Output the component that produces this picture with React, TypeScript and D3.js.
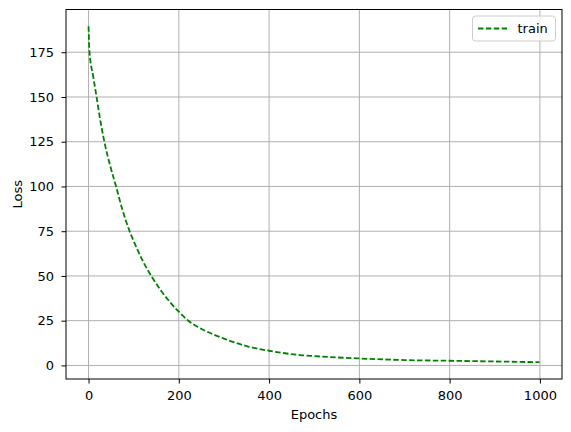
import React, { useEffect, useRef } from "react";
import * as d3 from "d3";

// Values
const epochs = [0, 2, 10, 18, 25, 35, 48, 61, 75, 91, 100, 120, 139, 160, 180, 200, 221, 246, 300, 350, 400, 468, 500, 600, 700, 800, 900, 999];
const trainLoss = [189.5, 175.5, 162, 149.7, 138.5, 125, 111.5, 100, 87, 75, 69.5, 58.5, 50, 42, 35.5, 30, 25, 21, 15, 10.8, 8.2, 5.8, 5.2, 3.9, 3.0, 2.6, 2.2, 1.8];
const xTicks = [0, 200, 400, 600, 800, 1000];
const yTicks = [0, 25, 50, 75, 100, 125, 150, 175];

const WIDTH = 571;
const HEIGHT = 432;

const App: React.FC = () => {
  const ref = useRef<SVGSVGElement | null>(null);

  useEffect(() => {
    const margin = { top: 9.5, right: 9, bottom: 53, left: 66 };
    const w = WIDTH - margin.left - margin.right;
    const h = HEIGHT - margin.top - margin.bottom;
    const font = "'DejaVu Sans', sans-serif";

    d3.select(ref.current).selectAll("*").remove();

    const svg = d3
      .select(ref.current)
      .append("g")
      .attr("transform", `translate(${margin.left},${margin.top})`);

    // matplotlib-style 5% margins
    const xSpan = d3.max(epochs)! - d3.min(epochs)!;
    const ySpan = d3.max(trainLoss)! - d3.min(trainLoss)!;
    const x = d3
      .scaleLinear()
      .domain([d3.min(epochs)! - xSpan * 0.05, d3.max(epochs)! + xSpan * 0.05])
      .range([0, w]);
    const y = d3
      .scaleLinear()
      .domain([d3.min(trainLoss)! - ySpan * 0.05, d3.max(trainLoss)! + ySpan * 0.05])
      .range([h, 0]);

    // Grid
    svg
      .append("g")
      .selectAll("line")
      .data(xTicks)
      .enter()
      .append("line")
      .attr("x1", (d) => x(d))
      .attr("x2", (d) => x(d))
      .attr("y1", 0)
      .attr("y2", h)
      .attr("stroke", "#b0b0b0")
      .attr("stroke-width", 1);
    svg
      .append("g")
      .selectAll("line")
      .data(yTicks)
      .enter()
      .append("line")
      .attr("x1", 0)
      .attr("x2", w)
      .attr("y1", (d) => y(d))
      .attr("y2", (d) => y(d))
      .attr("stroke", "#b0b0b0")
      .attr("stroke-width", 1);

    // Line
    const line = d3
      .line<number>()
      .x((_, i) => x(epochs[i]))
      .y((d) => y(d))
      .curve(d3.curveMonotoneX);

    svg
      .append("path")
      .datum(trainLoss)
      .attr("d", line)
      .attr("fill", "none")
      .attr("stroke", "#008000")
      .attr("stroke-width", 1.8)
      .attr("stroke-dasharray", "5.5,2.4");

    // Axes
    const xAxis = svg
      .append("g")
      .attr("transform", `translate(0,${h})`)
      .call(d3.axisBottom(x).tickValues(xTicks).tickSize(4.5).tickPadding(7).tickFormat(d3.format("d")));
    const yAxis = svg
      .append("g")
      .call(d3.axisLeft(y).tickValues(yTicks).tickSize(4.5).tickPadding(7.5).tickFormat(d3.format("d")));

    [xAxis, yAxis].forEach((a) => {
      a.select(".domain").remove();
      a.selectAll("line").attr("stroke", "#000").attr("stroke-width", 1);
      a.selectAll("text").attr("font-family", font).attr("font-size", 13).attr("fill", "#000");
    });

    // Spines
    svg
      .append("rect")
      .attr("x", 0)
      .attr("y", 0)
      .attr("width", w)
      .attr("height", h)
      .attr("fill", "none")
      .attr("stroke", "#000")
      .attr("stroke-width", 1);

    // Axis labels
    svg
      .append("text")
      .attr("x", w / 2)
      .attr("y", h + 39.5)
      .attr("text-anchor", "middle")
      .attr("font-family", font)
      .attr("font-size", 13)
      .text("Epochs");
    svg
      .append("text")
      .attr("transform", `translate(${-44},${h / 2}) rotate(-90)`)
      .attr("text-anchor", "middle")
      .attr("font-family", font)
      .attr("font-size", 13)
      .text("Loss");

    // Legend
    const lg = svg.append("g").attr("transform", `translate(${w - 89.5},${6.5})`);
    lg.append("rect")
      .attr("width", 83)
      .attr("height", 25)
      .attr("rx", 3)
      .attr("fill", "#fff")
      .attr("fill-opacity", 0.8)
      .attr("stroke", "#cccccc")
      .attr("stroke-width", 1);
    lg.append("line")
      .attr("x1", 5.5)
      .attr("x2", 34.5)
      .attr("y1", 12.5)
      .attr("y2", 12.5)
      .attr("stroke", "#008000")
      .attr("stroke-width", 1.8)
      .attr("stroke-dasharray", "5.5,2.4");
    lg.append("text")
      .attr("x", 45)
      .attr("y", 17)
      .attr("font-family", font)
      .attr("font-size", 13)
      .text("train");
  }, []);

  return (
    <svg
      ref={ref}
      width={WIDTH}
      height={HEIGHT}
      style={{ position: "absolute", left: 0, top: 0, background: "#fff" }}
    ></svg>
  );
};

export default App;
